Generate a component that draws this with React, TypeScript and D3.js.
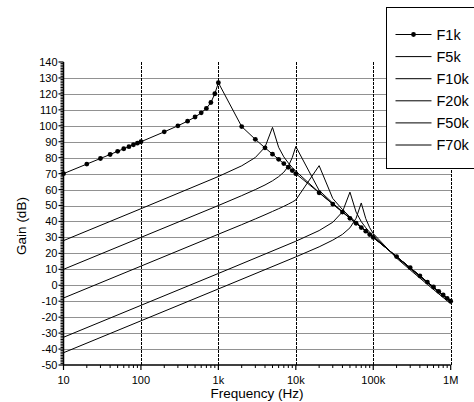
import React from "react";
import * as d3 from "d3";

// ---- data: [frequency Hz, gain dB] ----
const F1K: [number, number][] = [
  [10, 70.0], [20, 76.0], [30, 79.5], [40, 82.0], [50, 84.0], [60, 85.6], [70, 86.9], [80, 88.1], [90, 89.1],
  [100, 90.0], [200, 96.2], [300, 100.0], [400, 102.9], [500, 105.5], [600, 108.1], [700, 110.9], [800, 114.6], [900, 120.1],
  [1000, 127.0], [2000, 99.5], [3000, 91.5], [4000, 86.2], [5000, 82.2], [6000, 79.0], [7000, 76.3], [8000, 74.0], [9000, 71.9],
  [10000, 70.0], [20000, 58.0], [30000, 50.9], [40000, 45.9], [50000, 42.0], [60000, 38.9], [70000, 36.2], [80000, 33.9], [90000, 31.8],
  [100000, 30.0], [200000, 18.0], [300000, 11.0], [400000, 5.9], [500000, 2.0], [600000, -1.1], [700000, -3.8], [800000, -6.1], [900000, -8.2],
  [1000000, -10.0],
];
const F5K: [number, number][] = [
  [10, 28.0], [100, 48.0], [1000, 68.2], [2000, 74.9], [3000, 80.1], [4000, 86.6], [5000, 99.0], [6000, 86.5],
  [7000, 80.5], [8000, 76.7], [9000, 73.8], [10000, 71.5], [20000, 58.2], [30000, 51.0], [40000, 45.9], [50000, 42.0],
  [100000, 30.0], [1000000, -10.0],
];
const F10K: [number, number][] = [
  [10, 10.0], [100, 30.0], [1000, 50.0], [2000, 56.2], [3000, 60.0], [4000, 62.9], [5000, 65.5], [6000, 68.1],
  [7000, 70.9], [8000, 74.6], [9000, 80.1], [10000, 87.0], [20000, 59.5], [30000, 51.5], [40000, 46.2], [50000, 42.2],
  [60000, 39.0], [70000, 36.3], [80000, 34.0], [90000, 31.9], [100000, 30.0], [1000000, -10.0],
];
const F20K: [number, number][] = [
  [10, -8.0], [100, 12.0], [1000, 32.0], [2000, 38.0], [3000, 41.6], [4000, 44.2], [5000, 46.3], [6000, 48.0],
  [7000, 49.5], [8000, 50.9], [9000, 52.2], [10000, 53.5], [20000, 75.0], [30000, 54.4], [40000, 47.5], [50000, 42.9],
  [60000, 39.5], [70000, 36.6], [80000, 34.2], [90000, 32.1], [100000, 30.2], [200000, 18.0], [1000000, -10.0],
];
const F50K: [number, number][] = [
  [10, -32.6], [100, -12.6], [1000, 7.4], [10000, 27.6], [20000, 34.3], [30000, 39.5], [40000, 46.0], [50000, 58.4],
  [60000, 45.9], [70000, 39.9], [80000, 36.1], [90000, 33.2], [100000, 30.9], [200000, 17.6], [300000, 10.4],
  [400000, 5.3], [500000, 1.4], [1000000, -10.6],
];
const F70K: [number, number][] = [
  [10, -42.3], [100, -22.3], [1000, -2.3], [10000, 17.8], [20000, 24.1], [30000, 28.3], [40000, 31.9], [50000, 36.0],
  [60000, 42.0], [70000, 51.6], [80000, 41.8], [90000, 36.1], [100000, 32.4], [200000, 17.0], [300000, 9.6],
  [400000, 4.5], [500000, 0.5], [1000000, -11.6],
];

const SERIES_NAMES = ["F1k", "F5k", "F10k", "F20k", "F50k", "F70k"];
const SERIES = [F1K, F5K, F10K, F20K, F50K, F70K];

const X_TICKS = [10, 100, 1000, 10000, 100000, 1000000];
const X_TICK_LABELS = ["10", "100", "1k", "10k", "100k", "1M"];
const Y_TICKS = d3.range(-50, 141, 10);

export default function App() {
  const W = 474, H = 402;
  const x = d3.scaleLog().domain([10, 1e6]).range([63.5, 450.7]);
  const y = d3.scaleLinear().domain([-50, 140]).range([365, 62]);
  const line = d3.line<[number, number]>().x(d => x(d[0])).y(d => y(d[1]));

  const minorX: number[] = [];
  for (let dec = 10; dec < 1e6; dec *= 10) {
    for (let k = 2; k <= 9; k++) minorX.push(dec * k);
  }
  const minorY = d3.range(-50, 141, 1).filter(v => v % 10 !== 0);

  const font = "'Liberation Sans', Arial, sans-serif";
  const legendX = 386.5, legendY = 7.5;
  const rowY0 = 34.5, rowDy = 22.1;

  return (
    <svg width={W} height={H} style={{ position: "absolute", left: 0, top: 0 }} fontFamily={font}>
      <rect x={0} y={0} width={W} height={H} fill="#fff" />
      {/* horizontal grid */}
      {Y_TICKS.filter(v => v > -50 && v < 140).map(v => (
        <line key={"hg" + v} x1={x(10)} x2={x(1e6)} y1={Math.round(y(v)) + 0.5} y2={Math.round(y(v)) + 0.5}
          stroke="#222" strokeWidth={1} strokeDasharray="1,1" />
      ))}
      {/* vertical grid */}
      {X_TICKS.filter(v => v > 10).map(v => (
        <line key={"vg" + v} x1={Math.round(x(v)) + 0.5} x2={Math.round(x(v)) + 0.5} y1={y(140)} y2={y(-50)}
          stroke="#000" strokeWidth={1} strokeDasharray="3,1" />
      ))}
      {/* curves */}
      {SERIES.map((s, i) => (
        <path key={"s" + i} d={line(s) || ""} fill="none" stroke="#000" strokeWidth={1} />
      ))}
      {F1K.map((d, i) => (
        <circle key={"pt" + i} cx={x(d[0])} cy={y(d[1])} r={2.4} fill="#000" />
      ))}
      {/* y axis */}
      <line x1={63.5} x2={63.5} y1={y(140)} y2={y(-50)} stroke="#000" strokeWidth={1.5} />
      {minorY.map(v => (
        <line key={"my" + v} x1={60.5} x2={63.5} y1={y(v)} y2={y(v)} stroke="#000" strokeWidth={1} />
      ))}
      {Y_TICKS.map(v => (
        <g key={"yt" + v}>
          <line x1={58.5} x2={63.5} y1={y(v)} y2={y(v)} stroke="#000" strokeWidth={1.2} />
          <text x={57.5} y={y(v)} dy="0.36em" textAnchor="end" fontSize={11} fill="#000">{v}</text>
        </g>
      ))}
      {/* x axis */}
      <line x1={x(10)} x2={x(1e6)} y1={365} y2={365} stroke="#000" strokeWidth={1.5} />
      {minorX.map(v => (
        <line key={"mx" + v} x1={x(v)} x2={x(v)} y1={365} y2={368} stroke="#000" strokeWidth={1} />
      ))}
      {X_TICKS.map((v, i) => (
        <g key={"xt" + v}>
          <line x1={x(v)} x2={x(v)} y1={365} y2={370} stroke="#000" strokeWidth={1.2} />
          <text x={x(v)} y={384} textAnchor="middle" fontSize={11} fill="#000">{X_TICK_LABELS[i]}</text>
        </g>
      ))}
      {/* axis titles */}
      <text x={257} y={398} textAnchor="middle" fontSize={13.5} fill="#000">Frequency (Hz)</text>
      <text transform={`translate(25.5,226) rotate(-90)`} textAnchor="middle" fontSize={13.5} fill="#000">Gain (dB)</text>
      {/* legend */}
      <rect x={legendX} y={legendY} width={W - legendX + 10} height={161} fill="#fff" stroke="#000" strokeWidth={1} />
      {SERIES_NAMES.map((name, i) => {
        const ly = rowY0 + i * rowDy;
        return (
          <g key={"lg" + i}>
            <line x1={395.5} x2={431.5} y1={ly} y2={ly} stroke="#000" strokeWidth={1} />
            {i === 0 && <circle cx={413.5} cy={ly} r={2.4} fill="#000" />}
            <text x={436.5} y={ly} dy="0.36em" fontSize={14.5} fill="#000">{name}</text>
          </g>
        );
      })}
    </svg>
  );
}
